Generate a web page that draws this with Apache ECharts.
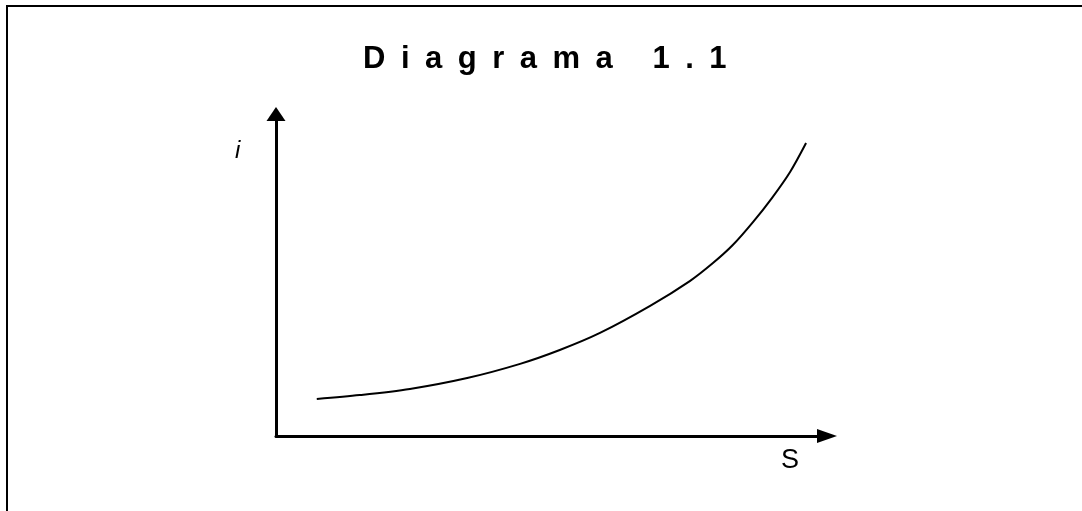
<!DOCTYPE html>
<html>
<head>
<meta charset="utf-8">
<script src="https://cdn.jsdelivr.net/npm/echarts@6/dist/echarts.min.js"></script>
<style>
  html, body { margin: 0; padding: 0; background: #fff; }
  #chart { width: 1082px; height: 511px; }
</style>
</head>
<body>
<div id="chart"></div>
<script>
// curve (x = S, y = i, both on a 0..100 scale)
var sValues = [7.4, 15.2, 24.3, 34.7, 44.3, 51.5, 58.8, 67.9, 75.1, 79.3, 82.9, 86.6, 90.0, 93.3, 96.2];
var iValues = [11.5, 12.7, 14.6, 18.0, 22.4, 26.7, 32.0, 40.4, 48.1, 53.7, 59.3, 66.5, 73.9, 82.0, 91.0];
var titleText = "Diagrama 1.1";
var xName = "S";
var yName = "i";

var points = sValues.map(function (s, k) {
  return [s, iValues[k]];
});

// the printed title is letter-spaced
var spacedTitle = titleText.split("").join("\u2002");

var axisLine = function (size) {
  return {
    show: true,
    symbol: ["none", "triangle"],
    symbolSize: size,
    lineStyle: { color: "#000", width: 3 }
  };
};

var chart = echarts.init(document.getElementById("chart"));
chart.setOption({
  animation: false,
  backgroundColor: "#fff",
  title: {
    text: spacedTitle,
    left: 358,
    top: 39,
    textStyle: {
      fontFamily: "Liberation Sans, Arial, sans-serif",
      fontSize: 31,
      fontWeight: "bold",
      color: "#000"
    }
  },
  grid: {
    left: 276,
    right: 255,
    top: 114,
    bottom: 75
  },
  xAxis: {
    type: "value",
    min: 0,
    max: 100,
    axisLine: axisLine([14, 20]),
    axisTick: { show: false },
    axisLabel: { show: false },
    splitLine: { show: false }
  },
  yAxis: {
    type: "value",
    min: 0,
    max: 100,
    axisLine: axisLine([19, 14]),
    axisTick: { show: false },
    axisLabel: { show: false },
    splitLine: { show: false }
  },
  graphic: [
    {
      type: "rect",
      shape: { x: 7, y: 6, width: 1090, height: 520 },
      style: { fill: "none", stroke: "#000", lineWidth: 2 },
      silent: true
    },
    {
      type: "text",
      left: 235,
      top: 139,
      style: {
        text: yName,
        font: "italic 24px Liberation Sans, Arial, sans-serif",
        fill: "#000"
      }
    },
    {
      type: "text",
      left: 781,
      top: 447,
      style: {
        text: xName,
        font: "27px Liberation Sans, Arial, sans-serif",
        fill: "#000"
      }
    }
  ],
  series: [
    {
      type: "line",
      data: points,
      smooth: 0.3,
      showSymbol: false,
      lineStyle: { color: "#000", width: 2 }
    }
  ]
});
</script>
</body>
</html>
